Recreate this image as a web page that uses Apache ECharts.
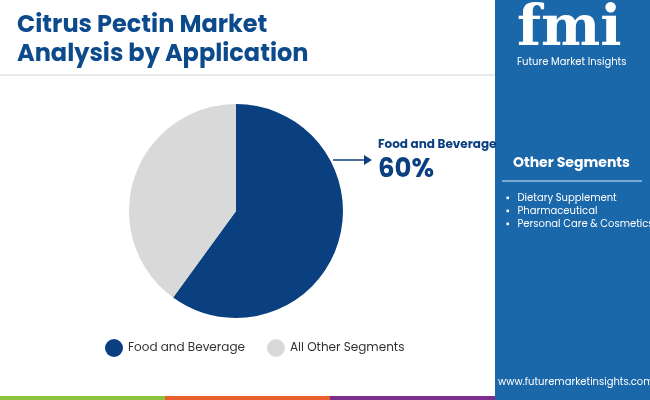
<!DOCTYPE html>
<html>
<head>
<meta charset="utf-8">
<script src="https://cdn.jsdelivr.net/npm/echarts@6/dist/echarts.min.js"></script>
<style>html,body{margin:0;padding:0;background:#fff}#main{width:650px;height:400px}</style>
</head>
<body>
<div id="main"></div>
<script>
var categories = ['Food and Beverage', 'All Other Segments'];
var shares = [60, 40];
var otherSegments = ['Dietary Supplement', 'Pharmaceutical', 'Personal Care & Cosmetics'];

var myChart = echarts.init(document.getElementById('main'));
var font = 'Poppins, "Open Sans", Roboto, sans-serif';

var bullets = otherSegments.map(function (s, i) {
	return {
		type: 'text', left: 506, top: 193 + i * 13,
		style: {text: '▪   ' + s, fill: '#fff', font: '10px ' + font}
	};
});

var option = {
	color: ['#0b4080', '#d9d9d9'],
	title: {
		text: 'Citrus Pectin Market\nAnalysis by Application',
		left: 12, top: 6,
		textStyle: {color: '#0d4a8c', fontSize: 24, fontWeight: 'bold', lineHeight: 29, fontFamily: font}
	},
	legend: {
		bottom: 38, left: 100,
		icon: 'circle', itemWidth: 18, itemHeight: 18, itemGap: 22,
		textStyle: {fontSize: 12, color: '#333', fontFamily: font},
		data: categories
	},
	series: [{
		type: 'pie',
		center: [236, 211], radius: [0, 107],
		startAngle: 90, clockwise: true,
		label: {show: false}, labelLine: {show: false},
		silent: true,
		data: categories.map(function (c, i) { return {name: c, value: shares[i]}; })
	}],
	graphic: [
		{type: 'line', shape: {x1: 0, y1: 75, x2: 495, y2: 75}, style: {stroke: '#cfd4da', lineWidth: 1}},
		{type: 'rect', shape: {x: 495, y: 0, width: 155, height: 400}, style: {fill: '#1a67aa'}},
		{type: 'text', left: 517, top: 2, style: {text: 'fmi', fill: '#fff', font: 'bold 56px "DejaVu Serif", serif'}},
		{type: 'text', left: 517, top: 57, style: {text: 'Future Market Insights', fill: '#fff', font: '10px ' + font}},
		{type: 'text', left: 513, top: 156, style: {text: 'Other Segments', fill: '#fff', font: 'bold 14px ' + font}},
		{type: 'line', shape: {x1: 502, y1: 181, x2: 642, y2: 181}, style: {stroke: '#9fc0de', lineWidth: 1.5}},
		{type: 'text', left: 498, top: 377, style: {text: 'www.futuremarketinsights.com', fill: '#fff', font: '10px ' + font}},
		{type: 'rect', shape: {x: 0, y: 396, width: 165, height: 4}, style: {fill: '#8cc43f'}},
		{type: 'rect', shape: {x: 165, y: 396, width: 165, height: 4}, style: {fill: '#e8602c'}},
		{type: 'rect', shape: {x: 330, y: 396, width: 165, height: 4}, style: {fill: '#7c2f8c'}},
		{type: 'line', shape: {x1: 333, y1: 160, x2: 366, y2: 160}, style: {stroke: '#0b4080', lineWidth: 1.5}},
		{type: 'polygon', shape: {points: [[372, 160], [364, 155], [364, 165]]}, style: {fill: '#0b4080'}},
		{type: 'text', left: 378, top: 139, style: {text: categories[0], fill: '#0b4080', font: 'bold 12px ' + font}},
		{type: 'text', left: 378, top: 157, style: {text: shares[0] + '%', fill: '#0b4080', font: 'bold 26px ' + font}}
	].concat(bullets)
};

option && myChart.setOption(option);
</script>
</body>
</html>
